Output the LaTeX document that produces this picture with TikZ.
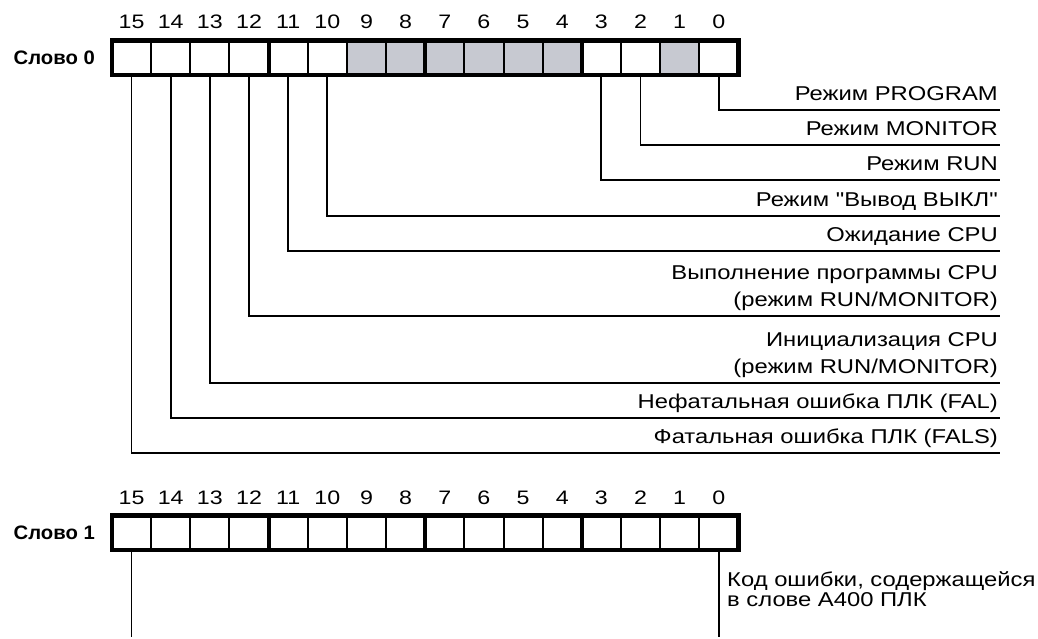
\documentclass[tikz,border=0pt]{standalone}
\usepackage{fontspec}
\setmainfont{Liberation Sans}[FakeStretch=1.19,Ligatures=TeXOff]
\newfontfamily\boldlbl{Liberation Sans}[FakeStretch=1.04]
\definecolor{cellgray}{RGB}{199,201,209}
\begin{document}
\begin{tikzpicture}[x=1pt,y=-1pt,
  cell/.style={draw=none,minimum width=39.15pt,minimum height=34.5pt,inner sep=0pt,outer sep=0pt},
  num/.style={anchor=base,inner sep=0pt,font=\fontsize{19.5}{23}\selectfont},
  lbl/.style={anchor=base east,inner sep=0pt,align=right,font=\fontsize{20}{27}\selectfont},
  wordlbl/.style={anchor=base east,inner sep=0pt,font=\boldlbl\bfseries\fontsize{19.5}{23}\selectfont},
  note/.style={anchor=base west,inner sep=0pt,align=left,font=\fontsize{20}{15}\selectfont},
  conn/.style={line width=1.8pt},
  frame/.style={line width=4.5pt},
  thindiv/.style={line width=2pt},
  thickdiv/.style={line width=4pt}]
\useasboundingbox (0,0) rectangle (1038,638);
% cells and bit numbers
\foreach \i in {0,...,15} {
  \pgfmathsetmacro\cx{112+(15-\i+0.5)*39.15}
  \node[cell] (w0b\i) at (\cx,57.75) {};
  \node[cell] (w1b\i) at (\cx,532.75) {};
  \node[num] (w0n\i) at (\cx,28.3) {\i};
  \node[num] (w1n\i) at (\cx,504) {\i};
}
\foreach \i in {9,8,7,6,5,4,1}
  \fill[cellgray] (w0b\i.north west) rectangle (w0b\i.south east);
% word labels
\node[wordlbl] (s0) at (95,64) {Слово 0};
\node[wordlbl] (s1) at (95,539) {Слово 1};
% label end points
\coordinate (e0) at (1000,110);
\coordinate (e2) at (1000,145);
\coordinate (e3) at (1000,180);
\coordinate (e10) at (1000,216);
\coordinate (e11) at (1000,251);
\coordinate (e12) at (1000,316);
\coordinate (e13) at (1000,383);
\coordinate (e14) at (1000,418);
\coordinate (e15) at (1000,453);
\foreach \i in {0,2,3,10,11,12,13,14,15}
  \draw[conn] (w0b\i.south) |- (e\i);
% labels
\node[lbl] (t0) at (998,100.5) {Режим PROGRAM};
\node[lbl] (t2) at (998,135.5) {Режим MONITOR};
\node[lbl] (t3) at (998,170.5) {Режим RUN};
\node[lbl] (t10) at (998,206.5) {Режим "Вывод ВЫКЛ"};
\node[lbl] (t11) at (998,241.5) {Ожидание CPU};
\node[lbl] (t12) at (998,306.5) {Выполнение программы CPU\\(режим RUN/MONITOR)};
\node[lbl] (t13) at (998,373.5) {Инициализация CPU\\(режим RUN/MONITOR)};
\node[lbl] (t14) at (998,408.5) {Нефатальная ошибка ПЛК (FAL)};
\node[lbl] (t15) at (998,443.5) {Фатальная ошибка ПЛК (FALS)};
% word 1 connectors
\coordinate (f15) at (w1b15.south |- 0,637);
\coordinate (f0) at (w1b0.south |- 0,637);
\draw[conn] (w1b15.south) -- (f15);
\draw[conn] (w1b0.south) -- (f0);
\node[note] (t1) at (727,606) {Код ошибки, содержащейся\\в слове A400 ПЛК};
% frames and dividers
\foreach \i in {14,13,12,10,9,8,6,5,4,2,1,0} {
  \draw[thindiv] (w0b\i.north west) -- (w0b\i.south west);
  \draw[thindiv] ([yshift=2pt]w1b\i.north west) -- ([yshift=-2pt]w1b\i.south west);
}
\foreach \i in {11,7,3} {
  \draw[thickdiv] (w0b\i.north west) -- (w0b\i.south west);
  \draw[thickdiv] ([yshift=2pt]w1b\i.north west) -- ([yshift=-2pt]w1b\i.south west);
}
\draw[frame] (w0b15.north west) rectangle (w0b0.south east);
\draw[frame] (w1b15.north west) rectangle (w1b0.south east);
\end{tikzpicture}
\end{document}
